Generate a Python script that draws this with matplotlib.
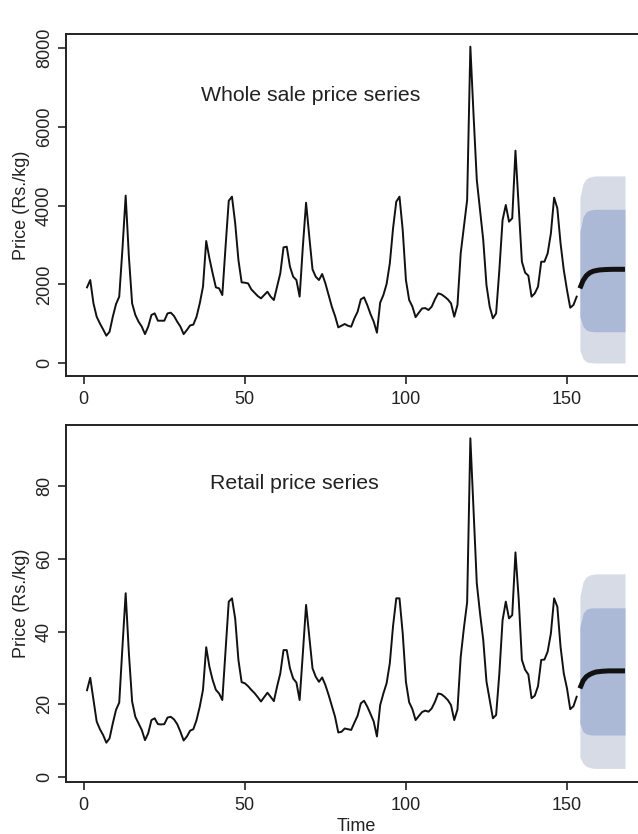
import matplotlib
matplotlib.use("Agg")
import matplotlib.pyplot as plt
import numpy as np

plt.rcParams['font.family'] = ['Liberation Sans', 'DejaVu Sans']

# ---------------- data ----------------
time_obs = list(range(1, 154))
time_fc = list(range(154, 169))

wholesale = [1925, 2111, 1520, 1180, 1010, 860, 700, 800, 1180, 1500,
             1690, 2900, 4250, 2700, 1520, 1225, 1055, 930, 740, 930,
             1225, 1266, 1080, 1080, 1080, 1266, 1283, 1200, 1055, 930,
             740, 844, 960, 980, 1180, 1520, 1942, 3100, 2660, 2280,
             1925, 1900, 1730, 2950, 4120, 4224, 3548, 2620, 2052, 2043,
             2026, 1874, 1790, 1705, 1646, 1730, 1815, 1690, 1604, 1942,
             2280, 2939, 2956, 2449, 2195, 2111, 1690, 2956, 4071, 3210,
             2381, 2195, 2111, 2263, 2026, 1730, 1435, 1198, 911, 953,
             996, 953, 928, 1139, 1308, 1621, 1672, 1477, 1249, 1055,
             776, 1536, 1731, 2010, 2534, 3420, 4097, 4224, 3379, 2111,
             1604, 1440, 1170, 1283, 1390, 1400, 1351, 1436, 1621, 1773,
             1748, 1689, 1621, 1520, 1182, 1478, 2788, 3464, 4140, 8027,
             6280, 4646, 3886, 3125, 1985, 1436, 1140, 1267, 2365, 3632,
             4013, 3590, 3675, 5390, 3960, 2576, 2298, 2222, 1689, 1773,
             1942, 2576, 2576, 2788, 3295, 4199, 3928, 3041, 2365, 1858,
             1410, 1478, 1689]

wh_mean = [1900, 2100, 2220, 2290, 2330, 2350, 2365, 2372, 2377, 2380,
           2382, 2383, 2383, 2383, 2383]
wh_hi95 = [4200, 4560, 4680, 4720, 4740, 4750, 4750, 4750, 4750, 4750,
           4750, 4750, 4750, 4750, 4750]
wh_lo95 = [330, 110, 40, 20, 12, 8, 7, 7, 7, 7, 7, 7, 7, 7, 7]
wh_hi80 = [3340, 3720, 3840, 3880, 3895, 3904, 3904, 3904, 3904, 3904,
           3904, 3904, 3904, 3904, 3904]
wh_lo80 = [1180, 930, 845, 815, 805, 800, 800, 800, 800, 800,
           800, 800, 800, 800, 800]

retail = [23.9, 27.3, 21.2, 15.3, 13.2, 11.6, 9.5, 10.7, 14.8, 18.5,
          20.5, 35.8, 50.5, 34.0, 20.8, 16.6, 14.8, 13.0, 10.2, 12.1,
          15.7, 16.2, 14.6, 14.5, 14.6, 16.4, 16.6, 15.9, 14.6, 12.5,
          10.1, 11.2, 12.8, 13.2, 15.7, 19.4, 24.0, 35.7, 30.3, 26.7,
          24.0, 23.0, 21.2, 34.9, 48.2, 49.1, 43.5, 32.2, 26.1, 25.8,
          25.0, 24.0, 23.1, 22.0, 20.8, 22.0, 23.2, 22.1, 20.9, 24.9,
          28.5, 34.9, 34.9, 29.9, 27.1, 26.0, 21.2, 34.0, 47.3, 38.6,
          29.9, 27.6, 26.2, 27.4, 25.3, 22.6, 19.6, 16.6, 12.3, 12.5,
          13.4, 13.2, 13.0, 15.0, 16.9, 20.3, 21.0, 19.4, 17.4, 15.3,
          11.2, 19.8, 23.0, 25.8, 31.3, 41.5, 49.1, 49.1, 39.5, 26.2,
          20.6, 18.7, 15.7, 16.8, 17.9, 18.3, 18.0, 18.9, 20.7, 23.0,
          22.8, 22.1, 21.2, 19.8, 15.7, 18.6, 33.0, 41.0, 48.0, 93.0,
          73.3, 53.2, 45.0, 37.7, 26.3, 21.2, 16.2, 17.1, 28.5, 43.1,
          48.2, 43.6, 44.5, 61.7, 49.0, 32.2, 29.5, 28.2, 21.7, 22.4,
          25.0, 32.2, 32.3, 34.5, 39.5, 49.1, 46.8, 35.8, 28.5, 24.4,
          18.7, 19.5, 22.1]

rt_mean = [24.4, 26.5, 27.6, 28.2, 28.6, 28.9, 29.0, 29.1, 29.15, 29.2,
           29.2, 29.2, 29.2, 29.2, 29.2]
rt_hi95 = [49.5, 53.7, 55.0, 55.5, 55.7, 55.8, 55.8, 55.8, 55.8, 55.8,
           55.8, 55.8, 55.8, 55.8, 55.8]
rt_lo95 = [5.6, 3.8, 3.0, 2.7, 2.5, 2.45, 2.45, 2.45, 2.45, 2.45,
           2.45, 2.45, 2.45, 2.45, 2.45]
rt_hi80 = [41.3, 45.0, 46.1, 46.4, 46.5, 46.5, 46.5, 46.5, 46.5, 46.5,
           46.5, 46.5, 46.5, 46.5, 46.5]
rt_lo80 = [14.8, 12.5, 11.9, 11.7, 11.6, 11.6, 11.6, 11.6, 11.6, 11.6,
           11.6, 11.6, 11.6, 11.6, 11.6]

x_ticks = [0, 50, 100, 150]
top_yticks = [0, 2000, 4000, 6000, 8000]
bot_yticks = [0, 20, 40, 60, 80]
top_title = "Whole sale price series"
bot_title = "Retail price series"
ylabel = "Price (Rs./kg)"
xlabel = "Time"

# ---------------- figure ----------------
W, H = 638, 834
fig = plt.figure(figsize=(W / 100, H / 100), dpi=100)

def px_axes(left, top, right, bottom):
    return fig.add_axes([left / W, 1 - bottom / H, (right - left) / W, (bottom - top) / H])

ax1 = px_axes(65.5, 34, 646.5, 375.7)
ax2 = px_axes(65.5, 425, 646.5, 781.7)

light = '#D7DBE5'
dark = '#ABB8D6'
txtc = '#222222'

def draw(ax, obs, mean, lo95, hi95, lo80, hi80, ylim, yticks, title, tpos):
    ax.fill_between(time_fc, lo95, hi95, color=light, lw=0, zorder=1)
    ax.fill_between(time_fc, lo80, hi80, color=dark, lw=0, zorder=2)
    ax.plot(time_obs, obs, color='#111111', lw=1.4, zorder=3)
    ax.plot(time_fc, mean, color='#111111', lw=3.6, zorder=4, solid_capstyle='butt')
    ax.set_xlim(-5.68, 174.68)
    ax.set_ylim(*ylim)
    ax.set_xticks(x_ticks)
    ax.set_yticks(yticks)
    ax.set_yticklabels([str(v) for v in yticks], rotation=90, va='center')
    ax.tick_params(axis='both', direction='out', length=6, width=1.2,
                   colors='#222222', labelsize=13, labelcolor=txtc)
    ax.tick_params(axis='x', pad=5)
    ax.tick_params(axis='y', pad=3)
    for s in ax.spines.values():
        s.set_linewidth(1.4)
        s.set_color('#222222')
    ax.set_ylabel(ylabel, fontsize=13, color=txtc, labelpad=4)
    ax.text(tpos[0], tpos[1], title, fontsize=15.3, color=txtc, ha='center', va='center')

draw(ax1, wholesale, wh_mean, wh_lo95, wh_hi95, wh_lo80, wh_hi80,
     (-314, 8347), top_yticks, top_title, (70.5, 6800))
draw(ax2, retail, rt_mean, rt_lo95, rt_hi95, rt_lo80, rt_hi80,
     (-1.2, 96.65), bot_yticks, bot_title, (65.5, 80.7))

ax2.set_xlabel(xlabel, fontsize=13, color=txtc, labelpad=3)

fig.savefig("out.png", dpi=100)
